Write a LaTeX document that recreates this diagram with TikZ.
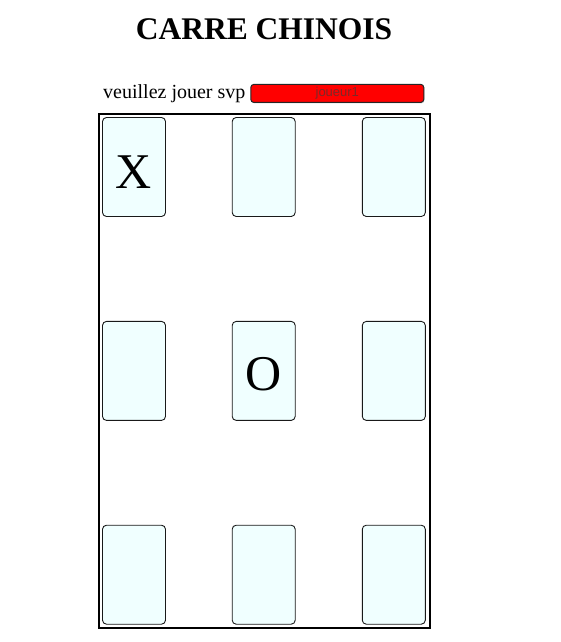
\documentclass[tikz,border=0pt]{standalone}
\usepackage{fontspec}
\setmainfont{Liberation Serif}
\newfontfamily\btnfont{Liberation Sans}
\usepackage{xcolor}
\usepackage{tikz}
\usetikzlibrary{shadows,positioning}
\definecolor{cardfill}{HTML}{F0FFFF}
\definecolor{btntext}{RGB}{125,40,40}

\begin{document}
\begin{tikzpicture}[x=1pt,y=-1pt,
	card/.style={rectangle,rounded corners=4pt,draw=black!90,line width=0.9pt,fill=cardfill,minimum width=63pt,minimum height=99pt,inner sep=0pt},
	symbol/.style={anchor=base,inner sep=0pt,font=\fontsize{50}{56}\selectfont},
	button/.style={rectangle,rounded corners=3pt,draw=black!85,line width=1pt,fill=red,minimum width=173pt,minimum height=18pt,inner sep=0pt,drop shadow={opacity=0.35,shadow xshift=0.6pt,shadow yshift=-1pt}}]
	\useasboundingbox (0,0) rectangle (560,642);

	 \node at (264,40) [anchor=base,inner sep=0pt,font=\fontsize{31.5}{36}\selectfont\bfseries] (title) {CARRE CHINOIS};
	 \node at (103,98.3) [anchor=base west,inner sep=0pt,font=\fontsize{20}{24}\selectfont] (prompt) {veuillez jouer svp};
	 \node at (337.3,93.4) [button] (player) {\btnfont\fontsize{13}{15}\selectfont\color{btntext}joueur1};

	 \node at (264,370.8) [rectangle,draw,line width=2pt,minimum width=331pt,minimum height=514.5pt,inner sep=0pt] (board) {};

	 \node at (134,167) [card] (c11) {};
	 \node at (263.7,167) [card] (c12) {};
	 \node at (393.8,167) [card] (c13) {};
	 \node at (134,370.9) [card] (c21) {};
	 \node at (263.7,370.9) [card] (c22) {};
	 \node at (393.8,370.9) [card] (c23) {};
	 \node at (134,574.7) [card] (c31) {};
	 \node at (263.7,574.7) [card] (c32) {};
	 \node at (393.8,574.7) [card] (c33) {};

	 \node at ([yshift=-21.5pt]c11.center) [symbol] (x11) {X};
	 \node at ([yshift=-20pt]c22.center) [symbol] (o22) {O};

\end{tikzpicture}
\end{document}
